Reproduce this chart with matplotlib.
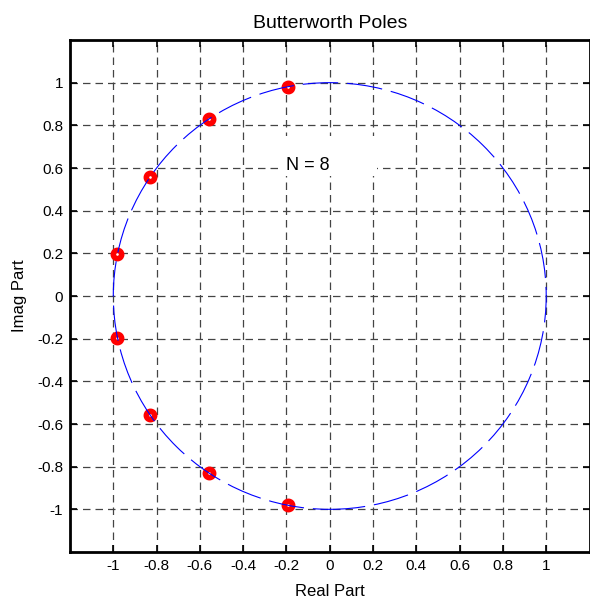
import matplotlib
matplotlib.use("Agg")
import matplotlib.pyplot as plt
from matplotlib.patches import Circle, Rectangle

plt.rcParams['font.family'] = ['Liberation Sans', 'DejaVu Sans']

pole_real = [-0.195, -0.556, -0.831, -0.981, -0.981, -0.831, -0.556, -0.195]
pole_imag = [0.981, 0.831, 0.556, 0.195, -0.195, -0.556, -0.831, -0.981]
tick_vals = [-1, -0.8, -0.6, -0.4, -0.2, 0, 0.2, 0.4, 0.6, 0.8, 1]
tick_labels = ['-1', '-0.8', '-0.6', '-0.4', '-0.2', '0', '0.2', '0.4', '0.6', '0.8', '1']
circle_radius = 1.0
order_label = 'N = 8'
label_x, label_y = -0.2, 0.59

fig = plt.figure(figsize=(5.9, 6.01), dpi=100)
ax = fig.add_axes([70/590, 1-552/601, (589.5-70)/590, (552-40)/601])

ax.plot(pole_real, pole_imag, 'o', color='red', markersize=6, markeredgewidth=4,
        markerfacecolor='white', markeredgecolor='red', zorder=3)
circ = Circle((0, 0), circle_radius, fill=False, edgecolor='blue', linewidth=0.8,
              linestyle=(0, (32, 8)), zorder=4)
ax.add_patch(circ)

# white background behind the annotation (as in the original figure)
ax.add_patch(Rectangle((label_x - 0.036, label_y - 0.027), 0.454, 0.188,
                       facecolor='white', edgecolor='none', zorder=2))
ax.text(label_x, label_y, order_label, fontsize=13, zorder=5)

ax.set_xlim(-1.2, 1.2)
ax.set_ylim(-1.2, 1.2)
ax.set_xticks(tick_vals)
ax.set_xticklabels(tick_labels)
ax.set_yticks(tick_vals)
ax.set_yticklabels(tick_labels)
ax.tick_params(direction='in', top=True, right=True, length=5, width=1.2,
               labelsize=11, pad=5)
ax.grid(True, color='#444444', linestyle=(0, (6, 4)), linewidth=0.9)
ax.set_axisbelow(True)
for s in ax.spines.values():
    s.set_linewidth(2)

ax.set_title('Butterworth Poles', fontsize=14, pad=9)
ax.set_xlabel('Real Part', fontsize=12, labelpad=8)
ax.set_ylabel('Imag Part', fontsize=12, labelpad=7)

fig.savefig('out.png', dpi=100)
